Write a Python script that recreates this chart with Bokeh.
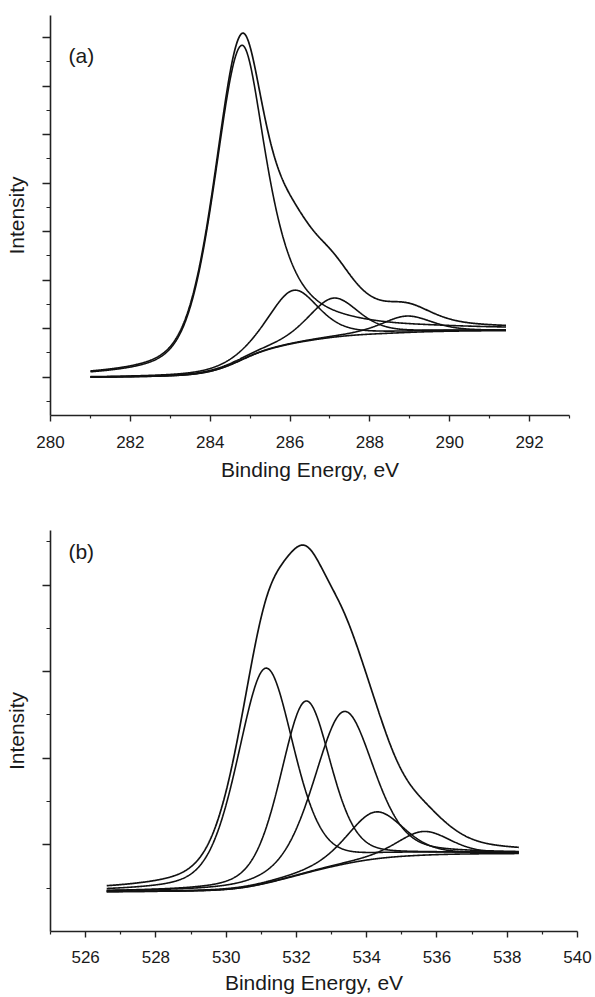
import numpy as np
from bokeh.plotting import figure
from bokeh.layouts import column
from bokeh.models import FixedTicker, Range1d, Label, CustomJSTickFormatter
from bokeh.embed import file_html
from bokeh.resources import INLINE

# ---------------- Panel (a): C 1s ----------------
a_energy_start = 281.0
a_energy_end = 291.41
a_bg_start = 1.00
a_bg_end = 1.96
a_centers = [284.78, 286.08, 287.08, 288.92]
a_apex = [7.84, 2.79, 2.63, 2.26]          # top of each component (incl. background)
a_fwhm_low = [1.60, 1.50, 1.50, 1.50]      # width on low-energy side
a_fwhm_high = [1.55, 1.50, 1.50, 1.50]     # width on high-energy side
a_lorentz_low = [0.40, 0.45, 0.45, 0.45]
a_lorentz_high = [0.85, 0.45, 0.45, 0.45]
a_xticks = [280, 282, 284, 286, 288, 290, 292]
a_xminor = [281, 283, 285, 287, 289, 291, 293]
a_yticks = [1, 2, 3, 4, 5, 6, 7, 8]
a_yminor = [0.5, 1.5, 2.5, 3.5, 4.5, 5.5, 6.5, 7.5]

# ---------------- Panel (b): O 1s ----------------
b_energy_start = 526.6
b_energy_end = 538.33
b_bg_start = 0.46
b_bg_end = 0.90
b_centers = [531.12, 532.26, 533.35, 534.25, 535.62]
b_apex = [3.04, 2.66, 2.54, 1.38, 1.155]
b_fwhm_low = [1.90, 1.70, 2.00, 1.90, 1.80]
b_fwhm_high = [1.90, 1.70, 2.00, 1.90, 1.80]
b_lorentz_low = [0.35, 0.35, 0.35, 0.35, 0.35]
b_lorentz_high = [0.35, 0.35, 0.35, 0.35, 0.35]
b_xticks = [526, 528, 530, 532, 534, 536, 538, 540]
b_xminor = [525, 527, 529, 531, 533, 535, 537, 539]
b_yticks = [1, 2, 3, 4]
b_yminor = [0.5, 1.5, 2.5, 3.5, 4.5]

FONT = "Liberation Sans"
INK = "#111111"


def peak(x, c, h, w_lo, w_hi, eta_lo, eta_hi):
    low = x < c
    w = np.where(low, w_lo, w_hi)
    eta = np.where(low, eta_lo, eta_hi)
    t = (x - c) / w
    return h * ((1 - eta) * np.exp(-4 * np.log(2) * t * t) + eta / (1 + 4 * t * t))


def build(e0, e1, b0, b1, centers, apex, wl, wh, el, eh):
    xs = np.linspace(e0, e1, 800)
    heights = np.array(apex) - b0
    for _ in range(40):
        comps = [peak(xs, *args) for args in zip(centers, heights, wl, wh, el, eh)]
        total = np.sum(comps, axis=0)
        cum = np.concatenate([[0.0], np.cumsum((total[1:] + total[:-1]) / 2 * np.diff(xs))])
        bg = b0 + (b1 - b0) * cum / cum[-1]
        heights = np.array(apex) - np.interp(centers, xs, bg)
    return xs, comps, bg, bg + total


def make_fig(width, height, top, bottom, left, right, xr, yr, xt, xm, yt, ym,
             tick_standoff, label_standoff):
    p = figure(width=width, height=height, x_range=Range1d(*xr), y_range=Range1d(*yr),
               output_backend="svg", toolbar_location=None,
               min_border_left=left, min_border_right=right,
               min_border_top=top, min_border_bottom=bottom)
    p.outline_line_color = None
    p.grid.visible = False
    p.background_fill_color = "white"
    p.border_fill_color = "white"

    xa = p.xaxis[0]
    xa.ticker = FixedTicker(ticks=xt, minor_ticks=xm)
    xa.axis_label = "Binding Energy, eV"
    xa.axis_label_text_font = FONT
    xa.axis_label_text_font_size = "21px"
    xa.axis_label_text_font_style = "normal"
    xa.axis_label_text_color = "#1a1a1a"
    xa.axis_label_standoff = label_standoff
    xa.major_label_text_font = FONT
    xa.major_label_text_font_size = "17px"
    xa.major_label_text_color = "#1a1a1a"
    xa.major_label_standoff = tick_standoff
    xa.axis_line_width = 1.6
    xa.axis_line_color = "#222222"
    xa.major_tick_line_width = 1.4
    xa.minor_tick_line_width = 1.2
    xa.major_tick_line_color = "#222222"
    xa.minor_tick_line_color = "#222222"
    xa.major_tick_out = 6
    xa.major_tick_in = 0
    xa.minor_tick_out = 3
    xa.minor_tick_in = 0

    ya = p.yaxis[0]
    ya.ticker = FixedTicker(ticks=yt, minor_ticks=ym)
    ya.formatter = CustomJSTickFormatter(code="return '';")
    ya.axis_label = "Intensity"
    ya.axis_label_text_font = FONT
    ya.axis_label_text_font_size = "21px"
    ya.axis_label_text_font_style = "normal"
    ya.axis_label_text_color = "#1a1a1a"
    ya.axis_label_standoff = 15
    ya.major_label_standoff = 0
    ya.axis_line_width = 1.6
    ya.axis_line_color = "#222222"
    ya.major_tick_line_width = 1.4
    ya.minor_tick_line_width = 1.2
    ya.major_tick_line_color = "#222222"
    ya.minor_tick_line_color = "#222222"
    ya.major_tick_out = 8
    ya.major_tick_in = 0
    ya.minor_tick_out = 4
    ya.minor_tick_in = 0
    return p


def draw(p, xs, comps, bg, env):
    p.line(xs, bg, line_color=INK, line_width=1.6)
    for cp in comps:
        p.line(xs, cp + bg, line_color=INK, line_width=1.6)
    p.line(xs, env, line_color=INK, line_width=1.7)


# ---- panel (a)
xs_a, comps_a, bg_a, env_a = build(a_energy_start, a_energy_end, a_bg_start, a_bg_end,
                                    a_centers, a_apex, a_fwhm_low, a_fwhm_high,
                                    a_lorentz_low, a_lorentz_high)
pa = make_fig(width=587, height=495, top=15, bottom=80, left=50, right=15,
              xr=(280, 293), yr=(0.21, 8.457),
              xt=a_xticks, xm=a_xminor, yt=a_yticks, ym=a_yminor,
              tick_standoff=14, label_standoff=7)
draw(pa, xs_a, comps_a, bg_a, env_a)
pa.add_layout(Label(x=280.45, y=7.63, text="(a)", text_font=FONT, text_font_size="21px",
                    text_color="#1a1a1a", text_baseline="middle", text_align="left"))

# ---- panel (b)
xs_b, comps_b, bg_b, env_b = build(b_energy_start, b_energy_end, b_bg_start, b_bg_end,
                                    b_centers, b_apex, b_fwhm_low, b_fwhm_high,
                                    b_lorentz_low, b_lorentz_high)
pb = make_fig(width=595, height=502, top=35, bottom=66, left=50, right=18,
              xr=(525, 540), yr=(0.0, 4.63),
              xt=b_xticks, xm=b_xminor, yt=b_yticks, ym=b_yminor,
              tick_standoff=13, label_standoff=5)
draw(pb, xs_b, comps_b, bg_b, env_b)
pb.add_layout(Label(x=525.51, y=4.39, text="(b)", text_font=FONT, text_font_size="21px",
                    text_color="#1a1a1a", text_baseline="middle", text_align="left"))

layout = column(pa, pb, spacing=0)
open("out.html", "w").write(file_html(layout, INLINE))
